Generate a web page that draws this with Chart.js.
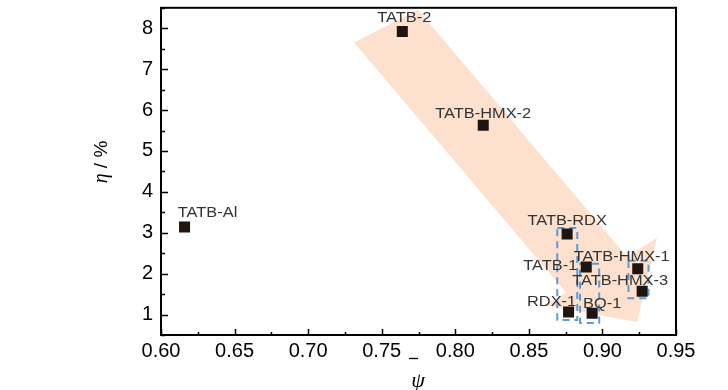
<!DOCTYPE html>
<html>
<head>
<meta charset="utf-8">
<script src="https://cdn.jsdelivr.net/npm/chart.js"></script>
<style>
  html, body { margin: 0; padding: 0; background: #fff; }
</style>
</head>
<body>
<canvas id="myChart" width="728" height="390"></canvas>
<script>
// samples and their values
var names = ["TATB-2", "TATB-HMX-2", "TATB-Al", "TATB-RDX", "TATB-1", "TATB-HMX-1", "TATB-HMX-3", "RDX-1", "BQ-1"];
var psi   = [0.764, 0.819, 0.616, 0.876, 0.889, 0.924, 0.927, 0.877, 0.893];
var eta   = [7.92, 5.63, 3.14, 2.97, 2.16, 2.12, 1.57, 1.06, 1.03];

var xTicks = [0.60, 0.65, 0.70, 0.75, 0.80, 0.85, 0.90, 0.95];
var yTicks = [1, 2, 3, 4, 5, 6, 7, 8];

// label offsets from the point, px
var labelDx = [2, 0, 23, 0, -36, -16, -22, -17, 10];
var labelDy = [-13, -11, -14, -13, -1, -12, -10, -10, -9];

// trend arrow outline and dashed boxes, in data units
var arrowPsi = [0.7312, 0.7747, 0.9167, 0.9371, 0.9235, 0.8610, 0.8752];
var arrowEta = [7.652, 8.452, 2.415, 2.876, 0.815, 1.227, 1.542];
var boxes = [
  [0.8693, 0.8829, 3.118, 0.864],
  [0.8848, 0.8978, 2.245, 0.791],
  [0.9177, 0.9313, 2.318, 1.397]
];

var pts = [];
for (var i = 0; i < names.length; i++) pts.push({x: psi[i], y: eta[i]});

var decor = {
  id: 'decor',
  beforeDatasetsDraw: function(chart) {
    var ctx = chart.ctx, sx = chart.scales.x, sy = chart.scales.y;
    ctx.save();
    ctx.beginPath();
    for (var i = 0; i < arrowPsi.length; i++) {
      var X = sx.getPixelForValue(arrowPsi[i]), Y = sy.getPixelForValue(arrowEta[i]);
      if (i == 0) ctx.moveTo(X, Y); else ctx.lineTo(X, Y);
    }
    ctx.closePath();
    ctx.fillStyle = '#fde1ce';
    ctx.fill();

    ctx.strokeStyle = '#5b9bd5';
    ctx.lineWidth = 2;
    ctx.setLineDash([7, 5]);
    boxes.forEach(function(b) {
      var x1 = sx.getPixelForValue(b[0]), x2 = sx.getPixelForValue(b[1]);
      var y1 = sy.getPixelForValue(b[2]), y2 = sy.getPixelForValue(b[3]);
      ctx.strokeRect(x1, y1, x2 - x1, y2 - y1);
    });
    ctx.restore();
  },
  afterDatasetsDraw: function(chart) {
    var ctx = chart.ctx, sx = chart.scales.x, sy = chart.scales.y, a = chart.chartArea;
    ctx.save();
    // point labels
    ctx.fillStyle = '#333';
    ctx.font = '14px "Liberation Sans", Arial, sans-serif';
    ctx.textAlign = 'center';
    ctx.textBaseline = 'middle';
    for (var i = 0; i < names.length; i++) {
      var X = sx.getPixelForValue(psi[i]) + labelDx[i];
      var Y = sy.getPixelForValue(eta[i]) + labelDy[i];
      ctx.save();
      ctx.translate(X, Y);
      ctx.scale(1.17, 1);
      ctx.fillText(names[i], 0, 0);
      ctx.restore();
    }

    // frame
    ctx.strokeStyle = '#000';
    ctx.lineWidth = 2;
    ctx.strokeRect(a.left, a.top, a.right - a.left, a.bottom - a.top);

    // inward ticks
    ctx.lineWidth = 1.5;
    ctx.beginPath();
    for (var v = 0.6; v <= 0.9501; v += 0.025) {
      var major = Math.abs(v * 20 - Math.round(v * 20)) < 0.01;
      var X2 = Math.round(sx.getPixelForValue(v)) + 0.5;
      ctx.moveTo(X2, a.bottom);
      ctx.lineTo(X2, a.bottom - (major ? 6 : 3));
    }
    for (var w = 0.5; w <= 8.501; w += 0.5) {
      var maj = Math.abs(w - Math.round(w)) < 0.01;
      var Y2 = Math.round(sy.getPixelForValue(w)) + 0.5;
      ctx.moveTo(a.left, Y2);
      ctx.lineTo(a.left + (maj ? 7 : 4), Y2);
    }
    ctx.stroke();

    // axis titles
    ctx.fillStyle = '#000';
    ctx.textBaseline = 'middle';
    ctx.save();
    ctx.translate(102, 162);
    ctx.rotate(-Math.PI / 2);
    var f1 = 'italic 20px "Liberation Serif", serif';
    var f2 = '19px "Liberation Sans", Arial, sans-serif';
    ctx.font = f1; var w1 = ctx.measureText('η').width;
    ctx.font = f2; var w2 = ctx.measureText(' / %').width;
    var start = -(w1 + w2) / 2;
    ctx.textAlign = 'left';
    ctx.font = f1; ctx.fillText('η', start, 0);
    ctx.font = f2; ctx.fillText(' / %', start + w1, 0);
    ctx.restore();

    ctx.font = 'italic 22px "Liberation Serif", serif';
    ctx.textAlign = 'center';
    ctx.fillText('ψ', 418, 381);
    ctx.lineWidth = 1.3;
    ctx.beginPath();
    ctx.moveTo(409, 358.5);
    ctx.lineTo(418, 358.5);
    ctx.stroke();
    ctx.restore();
  }
};

var canvas = document.getElementById('myChart').getContext('2d');

var chart = new Chart(canvas, {
  type: 'scatter',
  data: {
    datasets: [{
      data: pts,
      pointStyle: 'rect',
      pointRadius: 7.8,
      pointHoverRadius: 7.8,
      backgroundColor: '#1e1410',
      borderColor: '#1e1410',
      borderWidth: 0
    }]
  },
  options: {
    responsive: false,
    animation: false,
    devicePixelRatio: 1,
    layout: { padding: { top: 5, right: 52, left: 0, bottom: 0 } },
    plugins: { legend: { display: false }, tooltip: { enabled: false } },
    scales: {
      x: {
        type: 'linear',
        min: 0.6,
        max: 0.95,
        afterBuildTicks: function(s) { s.ticks = xTicks.map(function(v) { return {value: v}; }); },
        afterFit: function(s) { s.height = 55; s.paddingLeft = 0; s.paddingRight = 0; },
        grid: { display: false, drawTicks: false },
        border: { display: false },
        ticks: {
          color: '#000',
          padding: 4,
          maxRotation: 0,
          font: { family: '"Liberation Sans", Arial, sans-serif', size: 20 },
          callback: function(v) { return Number(v).toFixed(2); }
        }
      },
      y: {
        type: 'linear',
        min: 0.5,
        max: 8.5,
        afterBuildTicks: function(s) { s.ticks = yTicks.map(function(v) { return {value: v}; }); },
        afterFit: function(s) { s.width = 161; s.paddingTop = 0; s.paddingBottom = 0; },
        grid: { display: false, drawTicks: false },
        border: { display: false },
        ticks: {
          color: '#000',
          padding: 8,
          font: { family: '"Liberation Sans", Arial, sans-serif', size: 20 },
          callback: function(v) { return v; }
        }
      }
    }
  },
  plugins: [decor]
});
</script>
</body>
</html>
